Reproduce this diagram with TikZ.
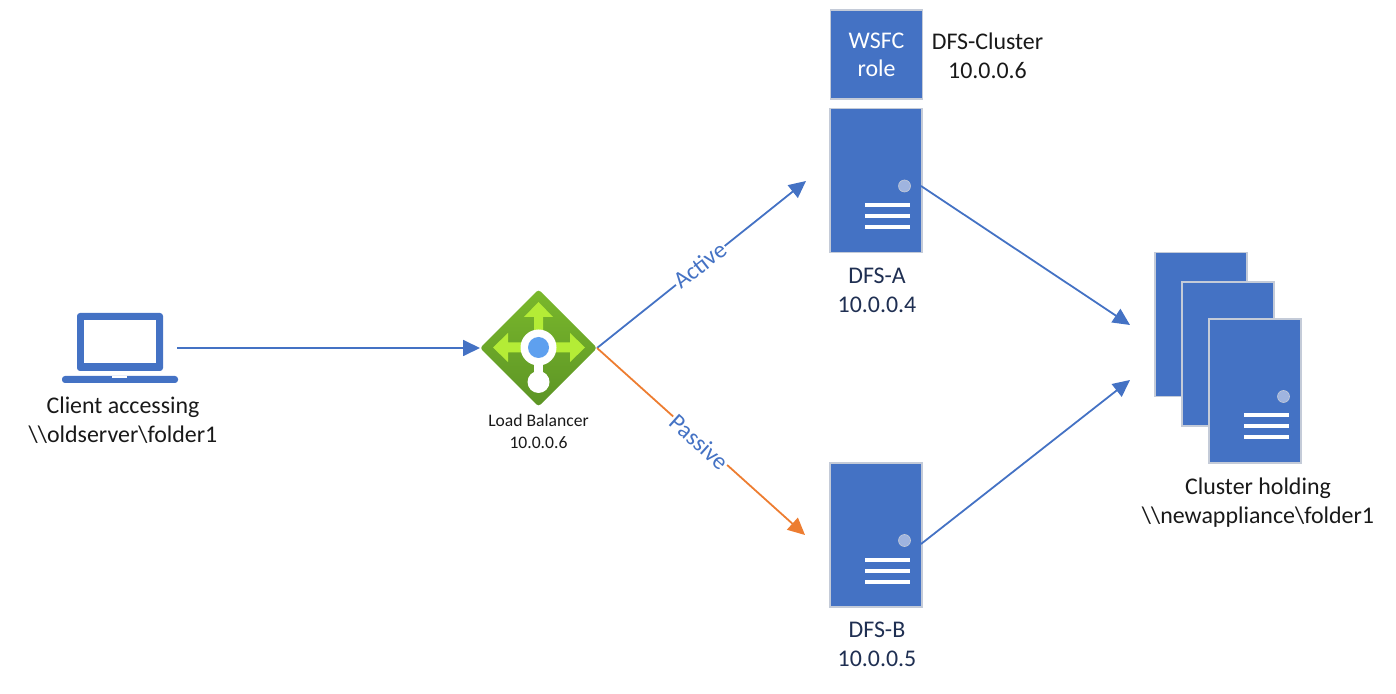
\documentclass[tikz,border=0pt]{standalone}
\usepackage{fontspec}
\setmainfont{Carlito}
\definecolor{boxblue}{HTML}{4472C4}
\definecolor{linkorange}{HTML}{ED7D31}
\definecolor{edgegrey}{HTML}{C4CBD8}
\definecolor{ledblue}{HTML}{9FB4DF}
\definecolor{lbgreen}{HTML}{7AB82C}
\definecolor{lbdark}{HTML}{5C9425}
\definecolor{lblime}{HTML}{B4EC36}
\definecolor{lbdot}{HTML}{5EA0EF}
\definecolor{navytext}{HTML}{1F2F52}
\usetikzlibrary{arrows.meta,shapes.geometric,calc}
\tikzset{
	flow/.style = {draw = boxblue, line width = 0.9pt, -{Triangle[length = 8.5pt, width = 8pt]}},
	flowpassive/.style = {flow, draw = linkorange},
	serverbox/.style = {draw = edgegrey, fill = boxblue, line width = 0.6pt,
						minimum width = 46pt, minimum height = 72pt, inner sep = 0pt},
	caption/.style = {align = center, font = \fontsize{11.95}{14.5}\selectfont, text = black!90, inner sep = 0pt},
	navycaption/.style = {caption, text = navytext},
	linktext/.style = {font = \fontsize{11.95}{12}\selectfont, text = boxblue, fill = white, inner sep = 0.6pt},
	hidden/.style = {inner sep = 0pt, outer sep = 0pt},
	bar/.style = {draw = white, line width = 2pt}
}
\newcommand{\serverface}[1]{
	\fill[ledblue, draw = edgegrey, line width = 0.3pt] ($(#1.center)+(28.5,5.5)$) circle (3pt);
	\draw[bar] ($(#1.center)+(-11,24.5)$) -- ++(45,0);
	\draw[bar] ($(#1.center)+(-11,35.5)$) -- ++(45,0);
	\draw[bar] ($(#1.center)+(-11,46.5)$) -- ++(45,0);
}
\begin{document}
\begin{tikzpicture}[x = 0.5pt, y = -0.5pt]
	\useasboundingbox (0, 0) rectangle (1396, 694);

	% client
	\draw (119.5, 348) node[hidden,
					  minimum width = 57.5pt,
					  minimum height = 35pt
			   ](laptop){};
	\fill[boxblue, rounded corners = 1.5pt] (77, 313) rectangle (163, 371);
	\fill[white] (84, 320) rectangle (156, 363);
	\fill[boxblue, rounded corners = 1.5pt] (62, 376) rectangle (178, 383);
	\fill[white] (112, 376) rectangle (127, 378.5);
	\draw (123, 420.5) node[caption](clienttext){Client accessing\\\textbackslash\textbackslash oldserver\textbackslash folder1};

	% load balancer
	\draw (538.5, 348) node[hidden,
					  shape = diamond,
					  top color = lbgreen,
					  bottom color = lbdark,
					  rounded corners = 1.5pt,
					  minimum width = 58.5pt,
					  minimum height = 58.5pt
			   ](lb){};
	\fill[lblime] (538.5, 302) -- (553, 317) -- (543, 317) -- (543, 335) -- (534, 335) -- (534, 317) -- (524, 317) -- cycle;
	\fill[lblime] (493, 347.5) -- (508, 333) -- (508, 342.5) -- (525, 342.5) -- (525, 352.5) -- (508, 352.5) -- (508, 362) -- cycle;
	\fill[lblime] (585, 347.5) -- (570, 333) -- (570, 342.5) -- (552, 342.5) -- (552, 352.5) -- (570, 352.5) -- (570, 362) -- cycle;
	\fill[white] (534, 360) rectangle (543, 378);
	\fill[white] (538.5, 347.5) circle (18);
	\fill[white] (538.5, 382) circle (11);
	\fill[lbdot] (538.5, 347.5) circle (10.5);
	\draw (538.5, 431.5) node[caption, font = \fontsize{8.8}{11}\selectfont](lbtext){Load Balancer\\10.0.0.6};

	% servers
	\draw (876.5, 54.5) node[serverbox,
					  minimum height = 44.5pt,
					  text = white,
					  align = center,
					  font = \fontsize{11.95}{14}\selectfont
			   ](role){WSFC\\role};
	\draw (876, 180.5) node[serverbox](dfsA){};
	\draw (876, 535) node[serverbox](dfsB){};
	\draw (1201, 324.5) node[serverbox](backbox){};
	\draw (1228, 354) node[serverbox](midbox){};
	\draw (1255, 391) node[serverbox](frontbox){};
	\serverface{dfsA}
	\serverface{dfsB}
	\serverface{frontbox}

	\draw (987.5, 56) node[caption](clustertext){DFS-Cluster\\10.0.0.6};
	\draw (877, 290) node[navycaption](dfsAtext){DFS-A\\10.0.0.4};
	\draw (877, 644) node[navycaption](dfsBtext){DFS-B\\10.0.0.5};
	\draw (1258, 503) node[caption](holdtext){Cluster holding\\\textbackslash\textbackslash newappliance\textbackslash folder1};

	% free ends
	\coordinate (activeend) at (806, 181);
	\coordinate (passiveend) at (805, 535);
	\coordinate (portA) at (921, 186);
	\coordinate (portB) at (921, 544);
	\coordinate (holdA) at (1130, 325);
	\coordinate (holdB) at (1130, 380);

	\draw[flow] (laptop.east) -- (lb.west);
	\draw[flow] (lb.east) -- (activeend);
	\draw[flowpassive] (lb.east) -- (passiveend);
	\draw[flow] (portA) -- (holdA);
	\draw[flow] (portB) -- (holdB);

	\draw (700, 265) node[linktext, rotate = 38](activetext){Active};
	\draw (699, 442) node[linktext, rotate = -42](passivetext){Passive};
\end{tikzpicture}
\end{document}
